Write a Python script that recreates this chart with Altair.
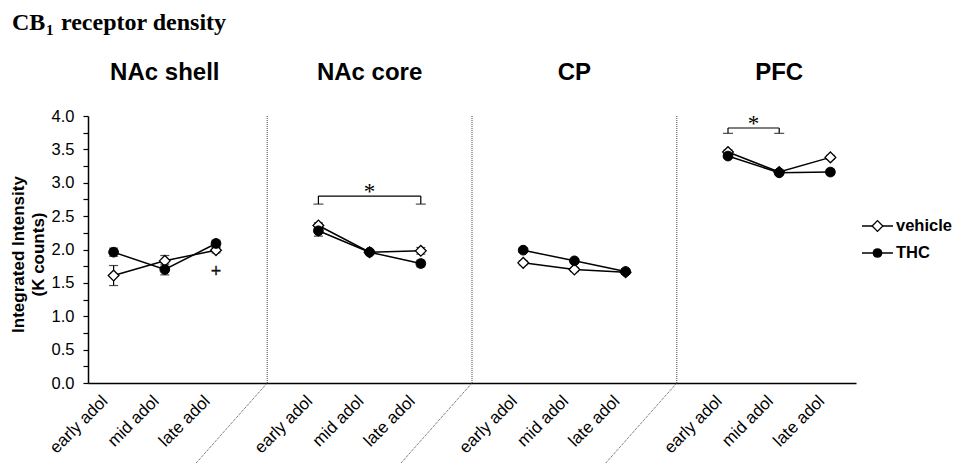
import json
import altair as alt
import pandas as pd

# ---------------- data ----------------
panels = ["NAc shell", "NAc core", "CP", "PFC"]
stages = ["early adol", "mid adol", "late adol"]
groups = ["vehicle", "THC"]

vehicle_mean = [[1.61, 1.83, 1.99], [2.36, 1.96, 1.98], [1.80, 1.70, 1.66], [3.46, 3.16, 3.38]]
vehicle_sem = [[0.15, 0.08, 0.04], [0.04, 0.03, 0.05], [0.03, 0.03, 0.03], [0.03, 0.03, 0.03]]
thc_mean = [[1.96, 1.70, 2.09], [2.28, 1.96, 1.79], [1.99, 1.83, 1.67], [3.40, 3.15, 3.16]]
thc_sem = [[0.06, 0.08, 0.05], [0.08, 0.03, 0.05], [0.03, 0.03, 0.04], [0.03, 0.03, 0.04]]

# significance brackets
sig_panels = ["NAc core", "PFC"]
sig_from = ["early adol", "early adol"]
sig_to = ["late adol", "mid adol"]
sig_top = [2.80, 3.82]
sig_bottom = [2.68, 3.74]
sig_star = [2.93, 3.96]
sig_text = ["*", "*"]

# trend marker (+)
plus_panel = ["NAc shell"]
plus_stage = ["late adol"]
plus_value = [1.66]

main_title = ["CB", "1", "receptor density"]
y_title = ["Integrated Intensity", "(K counts)"]
y_ticks = [i * 0.25 for i in range(17)]

# ---------------- tables ----------------
SLOTS = len(panels) * 4 - 1


def slot(p, s):
    return panels.index(p) * 4 + stages.index(s)


rows = []
for pi, p in enumerate(panels):
    for si, s in enumerate(stages):
        for g, means, sems in (("vehicle", vehicle_mean, vehicle_sem), ("THC", thc_mean, thc_sem)):
            m = means[pi][si]
            e = sems[pi][si]
            rows.append(dict(panel=p, stage=s, group=g, pos=slot(p, s), mean=m,
                             lo=m - e, hi=m + e, series=p + "-" + g))
df = pd.DataFrame(rows)

sep_df = pd.DataFrame({"pos": [pi * 4 + 3 for pi in range(len(panels) - 1)],
                       "y0": [0.0] * (len(panels) - 1), "y1": [4.0] * (len(panels) - 1)})

sig_df = pd.DataFrame({
    "x0": [slot(p, a) for p, a in zip(sig_panels, sig_from)],
    "x1": [slot(p, b) for p, b in zip(sig_panels, sig_to)],
    "top": sig_top, "bottom": sig_bottom, "star": sig_star, "text": sig_text,
})
sig_df["xm"] = (sig_df["x0"] + sig_df["x1"]) / 2
sig_ends = pd.concat([
    sig_df[["x0", "top", "bottom"]].rename(columns={"x0": "x"}),
    sig_df[["x1", "top", "bottom"]].rename(columns={"x1": "x"}),
])

plus_df = pd.DataFrame({"pos": [slot(p, s) for p, s in zip(plus_panel, plus_stage)],
                        "v": plus_value, "t": ["+"] * len(plus_value)})

ptitle_df = pd.DataFrame({"panel": panels, "pos": [pi * 4 + 1 for pi in range(len(panels))]})

labels_by_pos = [stages[i % 4] if i % 4 < 3 else "" for i in range(SLOTS)]
label_expr = json.dumps(labels_by_pos) + "[datum.value]"

SANS = "Liberation Sans"
SERIF = "Liberation Serif"

xscale = alt.Scale(domain=[-0.5, SLOTS - 0.5], nice=False, zero=False)
yscale = alt.Scale(domain=[0, 4], nice=False, zero=False)

xaxis = alt.Axis(values=[i for i in range(SLOTS) if i % 4 < 3], labelExpr=label_expr,
                 ticks=False, tickSize=0, grid=False, title=None, labelAngle=315,
                 labelAlign="right", labelBaseline="middle", labelPadding=15, labelOffset=-9,
                 labelFont=SANS, labelFontSize=17, labelColor="black", labelOverlap=False,
                 labelBound=False, labelFlush=False, domainColor="black", domainWidth=1.5)
yaxis = alt.Axis(values=y_ticks,
                 labelExpr="datum.value % 0.5 == 0 ? format(datum.value, '.1f') : ''",
                 grid=False, title=y_title, tickSize=5, tickColor="black", tickWidth=1.2,
                 domainColor="black", domainWidth=1.5, labelFont=SANS, labelFontSize=16.5,
                 labelColor="black", labelPadding=9, labelOverlap=False,
                 titleFont=SANS, titleFontSize=17, titleFontWeight="bold", titleColor="black",
                 titleAngle=270, titleBaseline="top", titleAlign="center",
                 titleX=-78, titleY=138, titleLineHeight=20)


def X(f):
    return alt.X(f, type="quantitative", scale=xscale, axis=xaxis)


def Y(f):
    return alt.Y(f, type="quantitative", scale=yscale, axis=yaxis)


base = alt.Chart(df)

lines = base.mark_line(color="black", strokeWidth=1.5).encode(
    x=X("pos"), y=Y("mean"), detail="series:N", order="pos:Q")
err = base.mark_rule(color="black", strokeWidth=1.2).encode(x=X("pos"), y=Y("lo"), y2="hi")
cap_lo = base.mark_tick(color="black", orient="horizontal", size=9, thickness=1.2).encode(
    x=X("pos"), y=Y("lo"))
cap_hi = base.mark_tick(color="black", orient="horizontal", size=9, thickness=1.2).encode(
    x=X("pos"), y=Y("hi"))
veh = base.transform_filter(alt.datum.group == "vehicle").mark_point(
    shape="diamond", size=115, filled=True, fill="white", stroke="black", strokeWidth=1.3,
    opacity=1).encode(x=X("pos"), y=Y("mean"))
thc = base.transform_filter(alt.datum.group == "THC").mark_point(
    shape="circle", size=95, filled=True, fill="black", stroke="black", strokeWidth=1,
    opacity=1).encode(x=X("pos"), y=Y("mean"))

sep_v = alt.Chart(sep_df).mark_rule(color="#444444", strokeWidth=1, strokeDash=[1, 1]).encode(
    x=X("pos"), y=Y("y0"), y2="y1")
sep_d = alt.Chart(sep_df).mark_rule(color="#444444", strokeWidth=1, strokeDash=[1, 1],
                                    x2Offset=-71, y2Offset=80).encode(
    x=X("pos"), x2="pos", y=Y("y0"), y2="y0")

sig_h = alt.Chart(sig_df).mark_rule(color="black", strokeWidth=1.2).encode(
    x=X("x0"), x2="x1", y=Y("top"))
sig_v = alt.Chart(sig_ends).mark_rule(color="black", strokeWidth=1.2).encode(
    x=X("x"), y=Y("top"), y2="bottom")
sig_c = alt.Chart(sig_ends).mark_tick(color="black", orient="horizontal", size=10,
                                      thickness=1.2).encode(x=X("x"), y=Y("bottom"))
sig_s = alt.Chart(sig_df).mark_text(font=SERIF, fontSize=23, fill="black",
                                    baseline="middle", dy=5).encode(
    x=X("xm"), y=Y("star"), text="text:N")

plus = alt.Chart(plus_df).mark_text(font=SANS, fontSize=18, fill="#111111",
                                    stroke="#111111", strokeWidth=0.3,
                                    baseline="middle").encode(
    x=X("pos"), y=Y("v"), text="t:N")

ptitles = alt.Chart(ptitle_df).mark_text(font=SANS, fontSize=24, fontWeight="bold",
                                         fill="black", baseline="alphabetic").encode(
    x=X("pos"), y=alt.value(-36), text="panel:N")

# main title with subscript
t1 = alt.Chart(pd.DataFrame({"t": [main_title[0]]})).mark_text(
    font=SERIF, fontSize=24, fontWeight="bold", fill="black",
    align="left", baseline="alphabetic").encode(
    x=alt.value(-76), y=alt.value(-86.5), text="t:N")
t2 = alt.Chart(pd.DataFrame({"t": [main_title[1]]})).mark_text(
    font=SERIF, fontSize=15, fontWeight="bold", fill="black", align="left",
    baseline="alphabetic").encode(x=alt.value(-42), y=alt.value(-81.5), text="t:N")
t3 = alt.Chart(pd.DataFrame({"t": [main_title[2]]})).mark_text(
    font=SERIF, fontSize=24, fontWeight="bold", fill="black", align="left",
    baseline="alphabetic").encode(x=alt.value(-27), y=alt.value(-86.5), text="t:N")

# legend
leg_layers = []
for i, g in enumerate(groups):
    ly = 110 + i * 27
    ldf = pd.DataFrame({"g": [g]})
    leg_layers.append(alt.Chart(ldf).mark_rule(color="black", strokeWidth=1.5).encode(
        x=alt.value(774), x2=alt.value(805), y=alt.value(ly)))
    if g == "vehicle":
        leg_layers.append(alt.Chart(ldf).mark_point(
            shape="diamond", size=115, filled=True, fill="white", stroke="black",
            strokeWidth=1.3, opacity=1).encode(x=alt.value(789.5), y=alt.value(ly)))
    else:
        leg_layers.append(alt.Chart(ldf).mark_point(
            shape="circle", size=95, filled=True, fill="black", opacity=1).encode(
            x=alt.value(789.5), y=alt.value(ly)))
    leg_layers.append(alt.Chart(ldf).mark_text(
        font=SANS, fontSize=16.5, fontWeight="bold", fill="black", align="left",
        baseline="middle").encode(x=alt.value(808), y=alt.value(ly), text="g:N"))

chart = alt.layer(
    sep_v, sep_d, lines, err, cap_lo, cap_hi, veh, thc, sig_h, sig_v, sig_c, sig_s, plus,
    ptitles, t1, t2, t3, *leg_layers
).properties(
    width=768, height=267,
    autosize=alt.AutoSizeParams(type="none"),
    padding={"left": 80, "top": 108, "right": 98, "bottom": 80},
    background="white",
).configure_view(stroke=None)

chart.save("out.html", embed_options={"renderer": "svg", "actions": False})
